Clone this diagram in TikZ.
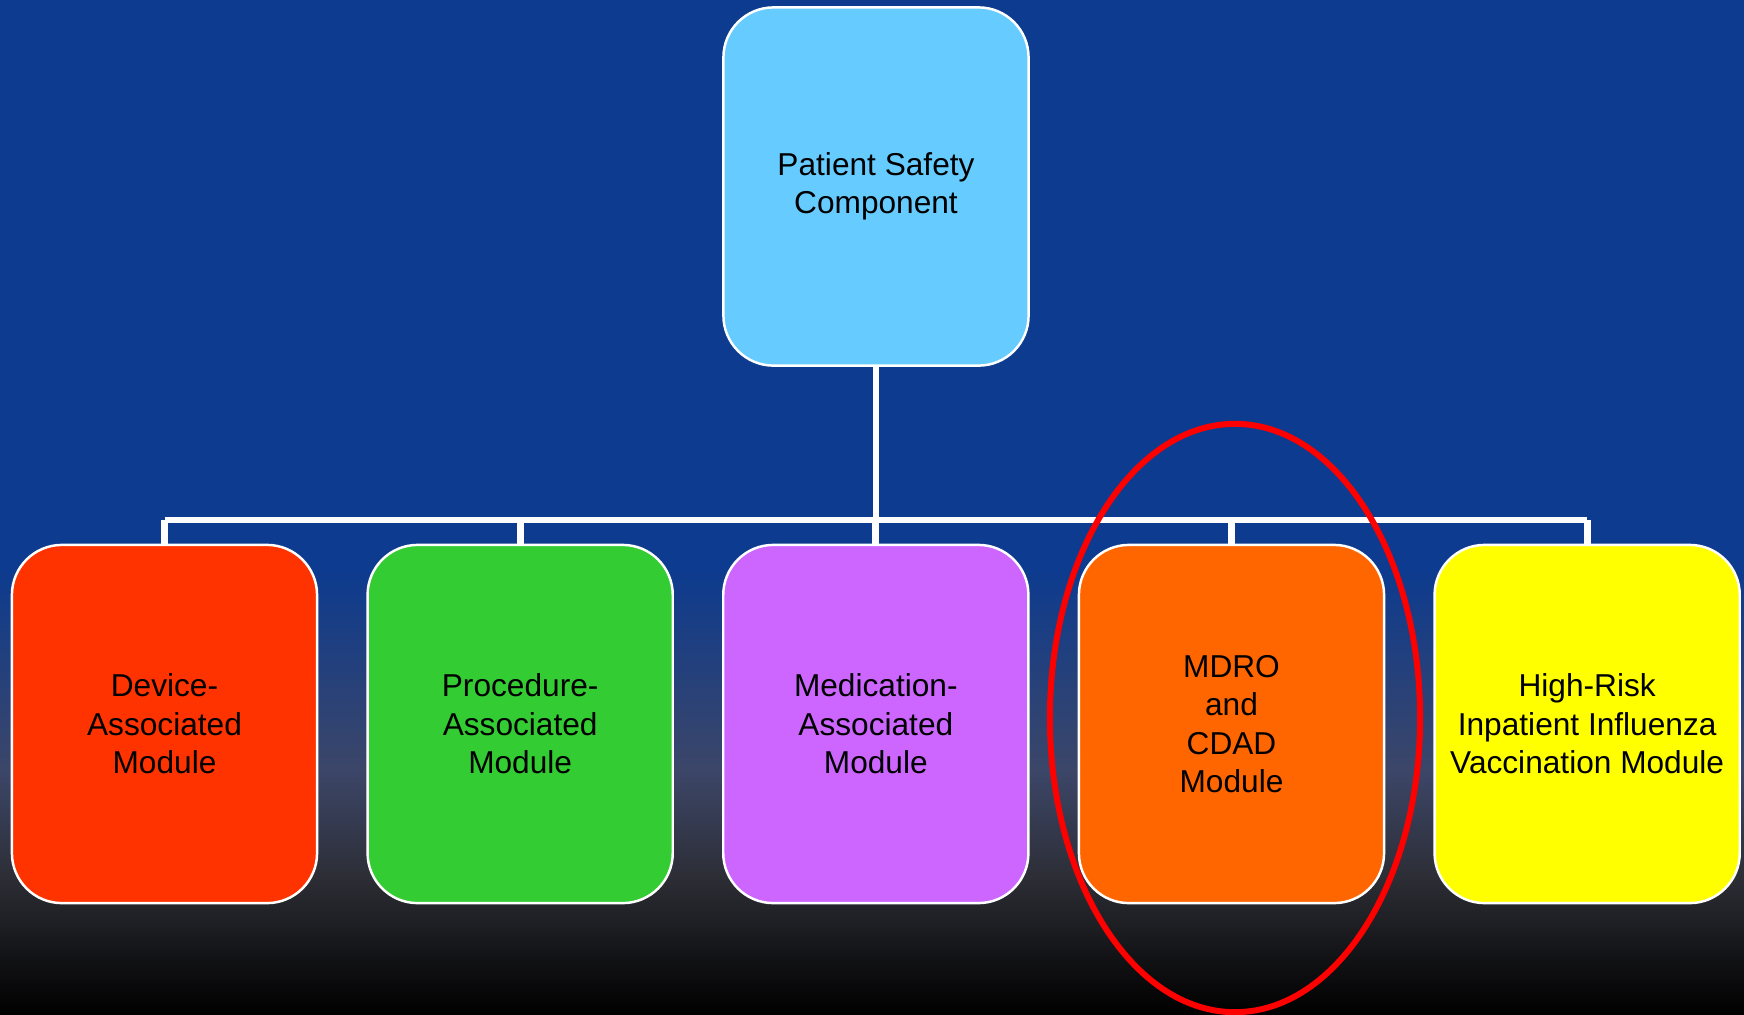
\documentclass[tikz,border=0pt]{standalone}
\usepackage{fontspec}
\setmainfont{Liberation Sans}
\usetikzlibrary{positioning}

\definecolor{psBlue}{RGB}{13,59,143}
\definecolor{psSlate}{RGB}{60,70,104}
\definecolor{psDark}{RGB}{44,45,52}
\definecolor{psSky}{RGB}{102,204,255}
\definecolor{psRed}{RGB}{255,51,0}
\definecolor{psGreen}{RGB}{51,204,51}
\definecolor{psViolet}{RGB}{204,102,255}
\definecolor{psOrange}{RGB}{255,102,0}
\definecolor{psYellow}{RGB}{255,255,0}

\tikzset{
  modbox/.style={draw=white, line width=0.7pt, rounded corners=0.5cm,
    minimum width=3.05cm, minimum height=3.58cm, align=center,
    font=\fontsize{9pt}{10.9pt}\selectfont, text=black},
  busline/.style={draw=white, line width=1.9pt},
  ring/.style={draw=red, line width=1.7pt}
}

\begin{document}
\begin{tikzpicture}[x=0.01cm, y=-0.01cm]
% frame of the slide
\useasboundingbox (0,0) rectangle (1744,1014);
% Background
\begin{scope}
  \fill[psBlue] (0,0) rectangle (1744,571);
  \shade[top color=psBlue, bottom color=psSlate] (0,570) rectangle (1744,771);
  \shade[top color=psSlate, bottom color=psDark] (0,770) rectangle (1744,881);
  \shade[top color=psDark, bottom color=black] (0,880) rectangle (1744,1014);
\end{scope}
% Boxes
\node[modbox, fill=psSky] (psc) at (876,186.5) {Patient Safety\\Component};
\node[modbox, fill=psRed] (dam) at (164.5,724) {Device-\\Associated\\Module};
\node[modbox, fill=psGreen, right=0.48cm of dam] (pam) {Procedure-\\Associated\\Module};
\node[modbox, fill=psViolet, right=0.48cm of pam] (mam) {Medication-\\Associated\\Module};
\node[modbox, fill=psOrange, right=0.48cm of mam] (mdro) {MDRO\\and\\CDAD\\Module};
\node[modbox, fill=psYellow, right=0.48cm of mdro] (flu) {High-Risk\\Inpatient Influenza\\Vaccination Module};
% Connectors
\coordinate (bus) at (0,520);
\begin{scope}[busline]
  \draw (psc.south) -- (psc.south |- bus);
  \draw (dam.north |- bus) -- (flu.north |- bus);
  \draw (dam.north) -- (dam.north |- bus);
  \draw (pam.north) -- (pam.north |- bus);
  \draw (mam.north) -- (mam.north |- bus);
  \draw (mdro.north) -- (mdro.north |- bus);
  \draw (flu.north) -- (flu.north |- bus);
\end{scope}
% Highlight round the MDRO module
\draw[ring] (1235,718) ellipse [x radius=1.85cm, y radius=2.94cm];
\end{tikzpicture}
\end{document}
